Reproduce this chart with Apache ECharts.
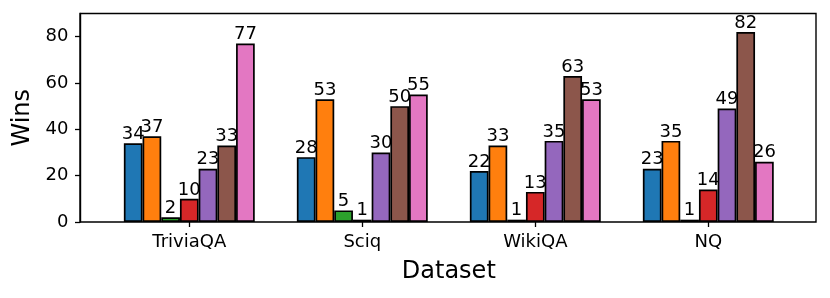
<!DOCTYPE html>
<html>
<head>
<meta charset="utf-8">
<script src="https://cdn.jsdelivr.net/npm/echarts@6/dist/echarts.min.js"></script>
<style>
html,body{margin:0;padding:0;background:#fff;}
#chart{width:830px;height:298px;}
</style>
</head>
<body>
<div id="chart"></div>
<script>
const categories = ['TriviaQA', 'Sciq', 'WikiQA', 'NQ'];
const series1 = [34, 28, 22, 23];
const series2 = [37, 53, 33, 35];
const series3 = [2, 5, 1, 1];
const series4 = [10, 1, 13, 14];
const series5 = [23, 30, 35, 49];
const series6 = [33, 50, 63, 82];
const series7 = [77, 55, 53, 26];
const yTicks = [0, 20, 40, 60, 80];
const colors = ['#1f77b4', '#ff7f0e', '#2ca02c', '#d62728', '#9467bd', '#8c564b', '#e377c2'];
const allSeries = [series1, series2, series3, series4, series5, series6, series7];

const FONT = 'DejaVu Sans';
const chart = echarts.init(document.getElementById('chart'), null, {renderer: 'canvas'});

const frame = {left: 80, top: 13.5, width: 736, height: 208.5};
const dataGrid = {left: 102.8, top: 13.5, width: 692, height: 208.5};

const option = {
  animation: false,
  textStyle: {fontFamily: FONT},
  grid: [
    Object.assign({show: true, borderColor: '#000', borderWidth: 1.4, backgroundColor: 'transparent', z: 5}, frame),
    Object.assign({show: false}, dataGrid)
  ],
  xAxis: [
    {gridIndex: 0, type: 'value', min: 0, max: 1, show: false},
    {
      gridIndex: 1, type: 'category', data: categories,
      axisLine: {show: false},
      axisTick: {show: true, alignWithLabel: true, length: 5, lineStyle: {color: '#000', width: 1.3}},
      axisLabel: {color: '#000', fontSize: 18, fontFamily: FONT, margin: 11},
      name: 'Dataset', nameLocation: 'middle', nameGap: 38,
      nameTextStyle: {color: '#000', fontSize: 24, fontFamily: FONT}
    }
  ],
  yAxis: [
    {
      gridIndex: 0, type: 'value', min: 0, max: 90, interval: 20,
      axisLine: {show: true, lineStyle: {color: '#000', width: 1.4}},
      axisTick: {show: true, length: 5, lineStyle: {color: '#000', width: 1.3}, customValues: yTicks},
      axisLabel: {color: '#000', fontSize: 18, fontFamily: FONT, margin: 11.5, customValues: yTicks},
      splitLine: {show: false},
      name: 'Wins', nameLocation: 'middle', nameGap: 43,
      nameTextStyle: {color: '#000', fontSize: 24, fontFamily: FONT}
    },
    {gridIndex: 1, type: 'value', min: 0, max: 90, show: false}
  ],
  series: allSeries.map((vals, i) => ({
    type: 'bar',
    xAxisIndex: 1, yAxisIndex: 1,
    data: vals,
    barWidth: 18.7,
    barGap: '0%',
    itemStyle: {color: colors[i], borderColor: '#000', borderWidth: 1.7},
    label: {show: true, position: 'top', distance: 0, color: '#000', fontSize: 18, fontFamily: FONT}
  }))
};
chart.setOption(option);
</script>
</body>
</html>
